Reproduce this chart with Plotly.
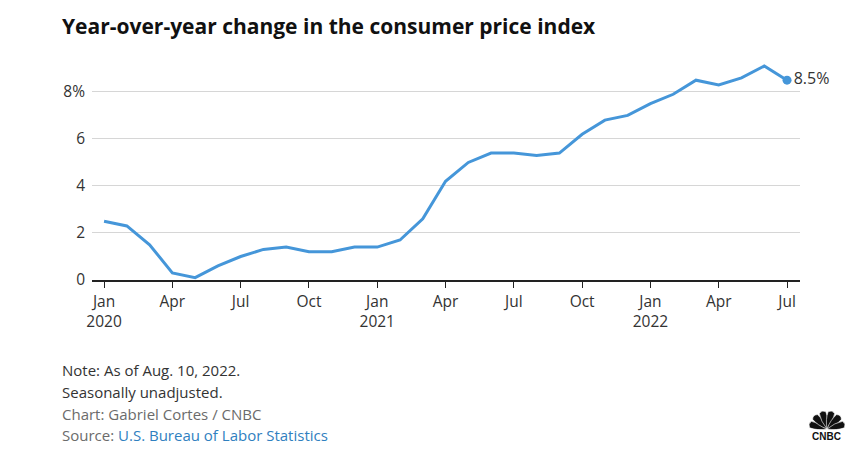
import math
import plotly.graph_objects as go

months = ["Jan 2020","Feb 2020","Mar 2020","Apr 2020","May 2020","Jun 2020","Jul 2020","Aug 2020","Sep 2020","Oct 2020","Nov 2020","Dec 2020",
          "Jan 2021","Feb 2021","Mar 2021","Apr 2021","May 2021","Jun 2021","Jul 2021","Aug 2021","Sep 2021","Oct 2021","Nov 2021","Dec 2021",
          "Jan 2022","Feb 2022","Mar 2022","Apr 2022","May 2022","Jun 2022","Jul 2022"]
cpi_yoy = [2.5, 2.3, 1.5, 0.3, 0.1, 0.6, 1.0, 1.3, 1.4, 1.2, 1.2, 1.4,
           1.4, 1.7, 2.6, 4.2, 5.0, 5.4, 5.4, 5.3, 5.4, 6.2, 6.8, 7.0,
           7.5, 7.9, 8.5, 8.3, 8.6, 9.1, 8.5]
x_tick_pos = [0, 3, 6, 9, 12, 15, 18, 21, 24, 27, 30]
x_tick_text = ["Jan<br>2020", "Apr", "Jul", "Oct", "Jan<br>2021", "Apr", "Jul", "Oct", "Jan<br>2022", "Apr", "Jul"]
y_tick_vals = [0, 2, 4, 6, 8]
y_tick_text = ["0", "2", "4", "6", "8%"]

x = list(range(len(cpi_yoy)))
LINE = "#4596d9"
FONT = "Open Sans"

fig = go.Figure()
fig.add_trace(go.Scatter(x=x, y=cpi_yoy, mode="lines", line=dict(color=LINE, width=3),
                         hoverinfo="skip", showlegend=False, cliponaxis=False))
fig.add_trace(go.Scatter(x=[x[-1]], y=[cpi_yoy[-1]], mode="markers+text",
                         marker=dict(color=LINE, size=9),
                         text=[f"{cpi_yoy[-1]}%"], textposition="middle right",
                         textfont=dict(size=16, color="#333333", family=FONT),
                         hoverinfo="skip", showlegend=False, cliponaxis=False))

fig.update_layout(
    width=868, height=458,
    margin=dict(l=92, r=68, t=59, b=178),
    plot_bgcolor="white", paper_bgcolor="white",
    font=dict(family=FONT, color="#333333", size=15),
    xaxis=dict(range=[-0.53, 30.57], tickvals=x_tick_pos, ticktext=x_tick_text,
               showgrid=False, zeroline=False, showline=True, linecolor="#222222", linewidth=2,
               ticks="outside", ticklen=6, tickcolor="#222222", tickwidth=1,
               tickfont=dict(size=15.5, color="#333333", family=FONT)),
    yaxis=dict(range=[0, 9.4], tickvals=y_tick_vals, ticktext=y_tick_text,
               showgrid=True, gridcolor="#d6d6d6", gridwidth=1, zeroline=False,
               showline=False, ticks="", ticklabelstandoff=6,
               tickfont=dict(size=15.5, color="#333333", family=FONT)),
)

fig.add_annotation(text="<b>Year-over-year change in the consumer price index</b>",
                   xref="paper", yref="paper", x=(60 - 92) / 708, y=(280 - 26) / 221,
                   xanchor="left", yanchor="middle", showarrow=False,
                   font=dict(size=21, color="#111111", family=FONT))

notes = [
    ("Note: As of Aug. 10, 2022.", "#333333", 370),
    ("Seasonally unadjusted.", "#333333", 392),
    ("Chart: Gabriel Cortes / CNBC", "#6b6b6b", 414),
    ("Source: <span style='color:#2f80c0'>U.S. Bureau of Labor Statistics</span>", "#6b6b6b", 435),
]
for txt, col, ypx in notes:
    fig.add_annotation(text=txt, xref="paper", yref="paper",
                       x=(60 - 92) / 708, y=(280 - ypx) / 221,
                       xanchor="left", yanchor="middle", showarrow=False,
                       font=dict(size=15, color=col, family=FONT))

# CNBC logo approximation
def px(xp):
    return (xp - 92) / 708

def py(yp):
    return (280 - yp) / 221

fig.add_annotation(text="<b>CNBC</b>", xref="paper", yref="paper",
                   x=px(827), y=py(436), xanchor="center", yanchor="middle",
                   showarrow=False, font=dict(size=10, color="#111111", family="Liberation Sans"))
cx, cy = 827, 429
for i in range(6):
    ang = math.radians(180 - (i + 0.5) * 30)
    r = 17
    w = 4.2
    fx = cx + r * math.cos(ang)
    fy = cy - r * math.sin(ang)
    mx = cx + r * 0.55 * math.cos(ang)
    my = cy - r * 0.55 * math.sin(ang)
    nx, ny = math.sin(ang), math.cos(ang)
    path = (f"M {px(cx)},{py(cy)} "
            f"Q {px(mx - w*nx)},{py(my - w*ny)} {px(fx - w*0.8*nx)},{py(fy - w*0.8*ny)} "
            f"Q {px(fx + 3*math.cos(ang))},{py(fy - 3*math.sin(ang))} {px(fx + w*0.8*nx)},{py(fy + w*0.8*ny)} "
            f"Q {px(mx + w*nx)},{py(my + w*ny)} {px(cx)},{py(cy)} Z")
    fig.add_shape(type="path", xref="paper", yref="paper", path=path,
                  fillcolor="#111111", line=dict(width=0.6, color="white"))

fig.write_html("out.html")
